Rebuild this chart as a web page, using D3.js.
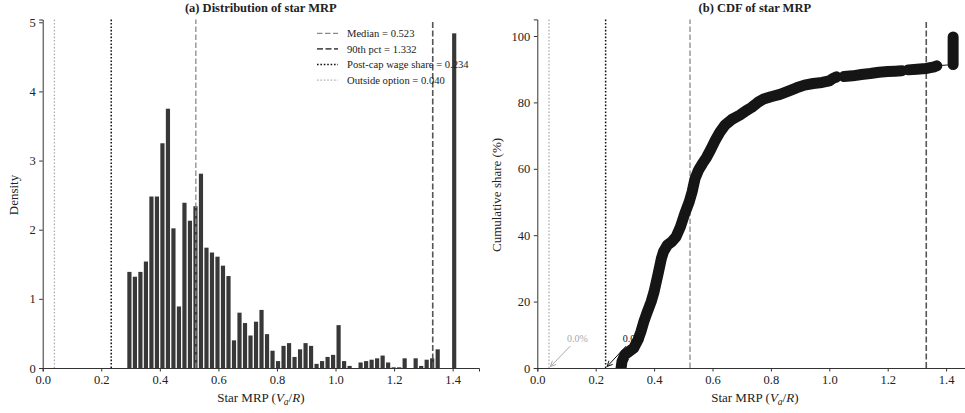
<!DOCTYPE html>
<html><head><meta charset="utf-8">
<script src="https://cdn.jsdelivr.net/npm/d3@7"></script>
<style>
body{margin:0;background:#fff}
svg{display:block}
text{font-family:"Liberation Serif","Times New Roman",Times,serif;fill:#222}
</style>
</head><body>
<svg id="chart" width="965" height="413"></svg>
<script>
// ---------- data ----------
const binStart = 0.2867;
const binWidth = 0.0188;
const density = [1.39,1.32,1.39,1.54,2.48,2.48,3.25,3.75,2.02,0.89,
                 2.39,2.13,2.34,2.81,1.74,1.67,1.61,1.48,1.33,0.40,
                 0.80,0.65,0.47,0.67,0.84,0.49,0.25,0.10,0.32,0.36,
                 0.16,0.27,0.36,0.32,0.06,0.10,0.16,0.19,0.62,0.10,
                 0.03,0.00,0.08,0.10,0.12,0.14,0.18,0.08,0.01,0.01,
                 0.14,0.00,0.14,0.03,0.12,0.14,0.27,0.00,0.00,4.84];
const refLabels = ["Median = 0.523","90th pct = 1.332","Post-cap wage share = 0.234","Outside option = 0.040"];
const refValues = [0.523, 1.332, 0.234, 0.040];
const cdfX = [0.287,0.290,0.300,0.315,0.330,0.345,0.355,0.365,0.375,0.390,0.400,0.414,0.425,0.432,0.445,0.460,0.475,0.490,0.505,0.520,
              0.530,0.540,0.552,0.565,0.580,0.595,0.610,0.625,0.643,0.665,0.694,0.715,0.734,0.755,0.775,0.800,0.831,0.860,0.888,0.915,
              0.945,0.975,1.000,1.012,1.025,
              NaN,
              1.050,1.080,1.110,1.140,1.170,1.200,1.225,1.248,
              NaN,
              1.270,1.300,1.330,1.355,1.368,
              NaN,
              1.424,1.424];
const cdfY = [0,2,4,5,6,8.5,11,14,16.5,20,23,28.5,33,35,37,38,39.5,42.5,46.5,50,
              53,57,59.6,61.5,63.5,66,68.7,71,73.2,74.8,76.2,77.5,78.5,80,81,81.7,82.4,83.4,84.4,85.2,
              85.7,86,86.5,87.2,87.7,
              NaN,
              87.8,88,88.4,88.7,89.1,89.3,89.4,89.5,
              NaN,
              89.8,90,90.2,90.6,91,
              NaN,
              91.4,99.7];
const xTicks = [0,0.2,0.4,0.6,0.8,1.0,1.2,1.4];
const densityTicks = [0,1,2,3,4,5];
const cdfTicks = [0,20,40,60,80,100];
const annTipX = [0.040, 0.234];
const annTextX = [0.137, 0.328];
const annTextY = [9, 9];
const annLabels = ["0.0%","0.0%"];

// ---------- styles ----------
const refColors = ["#8a8a8a","#555555","#111111","#b0b0b0"];
const refDash = ["5.5,2.5","6,2.5","1.6,1.8","1.6,1.8"];
const refWidth = [1.3,1.6,1.5,1.3];
const annColors = ["#aaaaaa","#111111"];

const svg = d3.select("#chart");

// ---------- panel A ----------
const xA = d3.scaleLinear().domain([0,1.49]).range([42.7,479]);
const yA = d3.scaleLinear().domain([0,5.04]).range([368,19.5]);

const gA = svg.append("g");
const bins = density.map((d,i)=>({x0: binStart + i*binWidth, x1: binStart+(i+1)*binWidth, d}));
gA.selectAll("rect.bar").data(bins).enter().append("rect")
  .attr("class","bar")
  .attr("x", b => xA(b.x0) + (xA(b.x1)-xA(b.x0))*0.12)
  .attr("width", b => (xA(b.x1)-xA(b.x0))*0.76)
  .attr("y", b => yA(b.d))
  .attr("height", b => yA(0)-yA(b.d))
  .attr("fill","#383838");

refValues.forEach((v,i)=>{
  gA.append("line").attr("x1",xA(v)).attr("x2",xA(v)).attr("y1",yA(0)).attr("y2",yA(5.04))
    .attr("stroke",refColors[i]).attr("stroke-width",refWidth[i]).attr("stroke-dasharray",refDash[i]);
});

function styleAxis(g){
  g.selectAll(".domain").attr("stroke","#333").attr("stroke-width",1);
  g.selectAll(".tick line").attr("stroke","#333");
  g.selectAll(".tick text").style("font-family",'"Liberation Serif","Times New Roman",serif').style("font-size","12.5px").attr("fill","#222");
}
const axA_x = gA.append("g").attr("transform","translate(0,368)")
  .call(d3.axisBottom(xA).tickValues(xTicks).tickFormat(d3.format(".1f")).tickSizeOuter(0).tickSize(3.5).tickPadding(3.5));
styleAxis(axA_x);
const axA_y = gA.append("g").attr("transform","translate(42.7,0)")
  .call(d3.axisLeft(yA).tickValues(densityTicks).tickFormat(d3.format("d")).tickSizeOuter(0).tickSize(3.5).tickPadding(3.5));
styleAxis(axA_y);

// legend
const leg = gA.append("g");
refLabels.forEach((t,i)=>{
  const yy = 33.3 + i*15.6;
  leg.append("line").attr("x1",317).attr("x2",338).attr("y1",yy).attr("y2",yy)
    .attr("stroke",refColors[i]).attr("stroke-width",refWidth[i]).attr("stroke-dasharray",refDash[i]);
  leg.append("text").attr("x",347).attr("y",yy).attr("dy","0.35em").style("font-size","10.6px").text(t);
});

gA.append("text").attr("x",(42.7+479)/2).attr("y",12).attr("text-anchor","middle")
  .style("font-size","12.5px").style("font-weight","bold").text("(a) Distribution of star MRP");
gA.append("text").attr("transform","translate(18,195) rotate(-90)").attr("text-anchor","middle")
  .style("font-size","13px").text("Density");

function xLabel(g, cx){
  const t = g.append("text").attr("x",cx).attr("y",402).attr("text-anchor","middle").style("font-size","13px");
  t.append("tspan").text("Star MRP (");
  t.append("tspan").style("font-style","italic").text("V");
  t.append("tspan").style("font-style","italic").style("font-size","9.5px").attr("dy",2.5).text("a");
  t.append("tspan").attr("dy",-2.5).text("/");
  t.append("tspan").style("font-style","italic").text("R");
  t.append("tspan").text(")");
}
xLabel(gA, (42.7+479)/2);

// ---------- panel B ----------
const xB = d3.scaleLinear().domain([0,1.49]).range([537.3,972.4]);
const yB = d3.scaleLinear().domain([0,105]).range([368,19.4]);
const gB = svg.append("g");

svg.append("defs").append("clipPath").attr("id","clipB").append("rect")
  .attr("x",537.3).attr("y",19.4).attr("width",972.4-537.3).attr("height",368-19.4);

refValues.forEach((v,i)=>{
  gB.append("line").attr("x1",xB(v)).attr("x2",xB(v)).attr("y1",yB(0)).attr("y2",yB(105))
    .attr("stroke",refColors[i]).attr("stroke-width",refWidth[i]).attr("stroke-dasharray",refDash[i]);
});

const pts = cdfX.map((x,i)=>({x, y: cdfY[i]}));
const cl = gB.append("g").attr("clip-path","url(#clipB)");
cl.append("path").datum(pts.filter(p=>!isNaN(p.x)))
  .attr("d", d3.line().x(p=>xB(p.x)).y(p=>yB(p.y)))
  .attr("fill","none").attr("stroke","#333").attr("stroke-width",1.2);
cl.append("path").datum(pts)
  .attr("d", d3.line().defined(p=>!isNaN(p.x)).x(p=>xB(p.x)).y(p=>yB(p.y)))
  .attr("fill","none").attr("stroke","#151515").attr("stroke-width",11)
  .attr("stroke-linecap","round").attr("stroke-linejoin","round");

const axB_x = gB.append("g").attr("transform","translate(0,368)")
  .call(d3.axisBottom(xB).tickValues(xTicks).tickFormat(d3.format(".1f")).tickSizeOuter(0).tickSize(3.5).tickPadding(3.5));
styleAxis(axB_x);
const axB_y = gB.append("g").attr("transform","translate(537.3,0)")
  .call(d3.axisLeft(yB).tickValues(cdfTicks).tickFormat(d3.format("d")).tickSizeOuter(0).tickSize(3.5).tickPadding(3.5));
styleAxis(axB_y);

// annotations
annTipX.forEach((tx,i)=>{
  const px = xB(annTextX[i]), py = yB(annTextY[i]);
  const tipx = xB(tx), tipy = yB(0);
  const sx = px-7, sy = py+8;
  const ex = tipx+1.5, ey = tipy-1.5;
  gB.append("line").attr("x1",sx).attr("y1",sy).attr("x2",ex).attr("y2",ey)
    .attr("stroke",annColors[i]).attr("stroke-width",1);
  const ang = Math.atan2(ey-sy, ex-sx);
  [0.45,-0.45].forEach(da=>{
    gB.append("line").attr("x1",ex).attr("y1",ey)
      .attr("x2",ex-6*Math.cos(ang+da)).attr("y2",ey-6*Math.sin(ang+da))
      .attr("stroke",annColors[i]).attr("stroke-width",1);
  });
  gB.append("text").attr("x",px).attr("y",py).attr("dy","0.35em").attr("text-anchor","middle")
    .style("font-size","10px").style("fill",annColors[i]).text(annLabels[i]);
});

gB.append("text").attr("x",(537.3+972.4)/2).attr("y",12).attr("text-anchor","middle")
  .style("font-size","12.5px").style("font-weight","bold").text("(b) CDF of star MRP");
gB.append("text").attr("transform","translate(501,195) rotate(-90)").attr("text-anchor","middle")
  .style("font-size","13px").text("Cumulative share (%)");
xLabel(gB, (537.3+972.4)/2);
</script>
</body></html>
